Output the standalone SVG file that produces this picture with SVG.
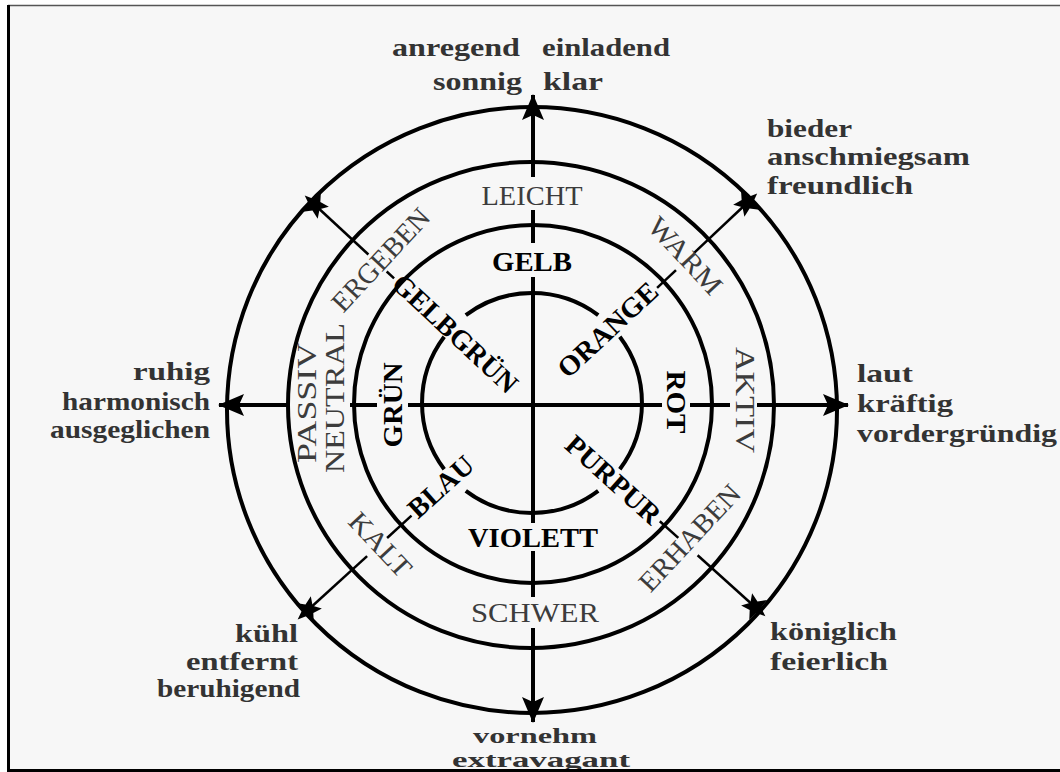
<svg xmlns="http://www.w3.org/2000/svg" width="1060" height="772" viewBox="0 0 1060 772">
<style>
.ring{fill:none;stroke:#000;stroke-width:4}
.axis{fill:none;stroke:#000;stroke-width:4}
.diag{fill:none;stroke:#000;stroke-width:2.5}
.col{font-family:"Liberation Serif",serif;font-weight:bold;font-size:28px;fill:#000}
.att{font-family:"Liberation Serif",serif;font-size:28px;fill:#3c3c3c}
.adj{font-family:"Liberation Serif",serif;font-weight:bold;font-size:25px;fill:#333}
.adj2{font-family:"Liberation Serif",serif;font-weight:bold;font-size:22px;fill:#333}
</style>
<defs>
<marker id="arr" viewBox="0 0 26 22" refX="25" refY="11" markerWidth="26" markerHeight="22" markerUnits="userSpaceOnUse" orient="auto">
<path d="M0,0 L26,11 L0,22 L5,11 Z" fill="#000"/>
</marker>
<marker id="star" viewBox="-15 -15 30 30" refX="0" refY="0" markerWidth="30" markerHeight="30" markerUnits="userSpaceOnUse" orient="auto">
<polygon points="14,0 5,3.6 4.3,13.3 -1.9,5.8 -11.3,8.2 -6.2,0 -11.3,-8.2 -1.9,-5.8 4.3,-13.3 5,-3.6" fill="#000"/>
</marker>
</defs>
<rect x="0" y="0" width="1060" height="772" fill="#fff"/>
<rect x="8" y="5" width="1052" height="765" fill="#f7f7f7"/>
<line x1="8" y1="5.5" x2="1060" y2="5.5" stroke="#555" stroke-width="1.5"/>
<line x1="8.5" y1="5" x2="8.5" y2="772" stroke="#000" stroke-width="3"/>

<g id="rings">
<ellipse class="ring" cx="532" cy="410" rx="305" ry="303"/>
<circle class="ring" cx="531" cy="405" r="243"/>
<circle class="ring" cx="533" cy="404" r="179"/>
<path class="ring" d="M598.2,490.8 A110,110 0 0 1 465.8,490.8 M444.2,469.2 A110,110 0 0 1 444.2,336.8 M465.8,315.2 A110,110 0 0 1 598.2,315.2 M619.8,336.8 A110,110 0 0 1 619.8,469.2"/>
</g>

<g id="connectors">
<line class="axis" x1="533" y1="177" x2="533" y2="95" marker-end="url(#arr)"/>
<line class="axis" x1="533" y1="210" x2="533" y2="243"/>
<line class="axis" x1="533" y1="277" x2="533" y2="523"/>
<line class="axis" x1="533" y1="551" x2="533" y2="597"/>
<line class="axis" x1="533" y1="628" x2="533" y2="722" marker-end="url(#arr)"/>
<line class="axis" x1="290" y1="405" x2="219" y2="405" marker-end="url(#arr)"/>
<line class="axis" x1="350" y1="405" x2="377" y2="405"/>
<line class="axis" x1="408" y1="405" x2="662" y2="405"/>
<line class="axis" x1="690" y1="405" x2="730" y2="405"/>
<line class="axis" x1="757" y1="405" x2="848" y2="405" marker-end="url(#arr)"/>
<line class="diag" x1="394.1" y1="278.3" x2="386.7" y2="271.5"/>
<line class="diag" x1="368.4" y1="254.5" x2="315" y2="205" marker-end="url(#star)"/>
<line class="diag" x1="657.1" y1="287.9" x2="676" y2="270.1"/>
<line class="diag" x1="694.1" y1="252.9" x2="747" y2="203" marker-end="url(#star)"/>
<line class="diag" x1="411.5" y1="515.7" x2="387.1" y2="538"/>
<line class="diag" x1="367.1" y1="556.1" x2="308" y2="610" marker-end="url(#star)"/>
<line class="diag" x1="659.8" y1="521.2" x2="678.3" y2="537.9"/>
<line class="diag" x1="697.6" y1="555.3" x2="755" y2="607" marker-end="url(#star)"/>
</g>

<g id="colour-labels">
<text class="col" x="532" y="271" text-anchor="middle" textLength="80" lengthAdjust="spacingAndGlyphs">GELB</text>
<text class="col" x="533" y="547" text-anchor="middle" textLength="130" lengthAdjust="spacingAndGlyphs">VIOLETT</text>
<text class="col" transform="translate(393,405) rotate(-90)" x="0" y="9" text-anchor="middle" textLength="85" lengthAdjust="spacingAndGlyphs">GRÜN</text>
<text class="col" transform="translate(676,402) rotate(90)" x="0" y="9" text-anchor="middle" textLength="63" lengthAdjust="spacingAndGlyphs">ROT</text>
<text class="col" transform="translate(455,334) rotate(43)" x="0" y="9" text-anchor="middle" textLength="160" lengthAdjust="spacingAndGlyphs">GELBGRÜN</text>
<text class="col" transform="translate(608,330) rotate(-43)" x="0" y="9" text-anchor="middle" textLength="126" lengthAdjust="spacingAndGlyphs">ORANGE</text>
<text class="col" transform="translate(441,487) rotate(-42)" x="0" y="9" text-anchor="middle" textLength="78" lengthAdjust="spacingAndGlyphs">BLAU</text>
<text class="col" transform="translate(613,480) rotate(42)" x="0" y="9" text-anchor="middle" textLength="118" lengthAdjust="spacingAndGlyphs">PURPUR</text>
</g>

<g id="attribute-labels">
<text class="att" x="532" y="205" text-anchor="middle" textLength="101" lengthAdjust="spacingAndGlyphs">LEICHT</text>
<text class="att" x="535" y="622" text-anchor="middle" textLength="128" lengthAdjust="spacingAndGlyphs">SCHWER</text>
<text class="att" transform="translate(307,403) rotate(-90)" x="0" y="9" text-anchor="middle" textLength="120" lengthAdjust="spacingAndGlyphs">PASSIV</text>
<text class="att" transform="translate(335,398) rotate(-90)" x="0" y="9" text-anchor="middle" textLength="150" lengthAdjust="spacingAndGlyphs">NEUTRAL</text>
<text class="att" transform="translate(745,400) rotate(90)" x="0" y="9" text-anchor="middle" textLength="106" lengthAdjust="spacingAndGlyphs">AKTIV</text>
<text class="att" transform="translate(381,260) rotate(-47)" x="0" y="9" text-anchor="middle" textLength="130" lengthAdjust="spacingAndGlyphs">ERGEBEN</text>
<text class="att" transform="translate(685,256) rotate(47)" x="0" y="9" text-anchor="middle" textLength="95" lengthAdjust="spacingAndGlyphs">WARM</text>
<text class="att" transform="translate(380,545) rotate(47)" x="0" y="9" text-anchor="middle" textLength="78" lengthAdjust="spacingAndGlyphs">KALT</text>
<text class="att" transform="translate(690,538) rotate(-47)" x="0" y="9" text-anchor="middle" textLength="135" lengthAdjust="spacingAndGlyphs">ERHABEN</text>
</g>

<g id="top-words">
<text class="adj" x="392" y="56" textLength="128" lengthAdjust="spacingAndGlyphs">anregend</text>
<text class="adj" x="542" y="56" textLength="128" lengthAdjust="spacingAndGlyphs">einladend</text>
<text class="adj" x="433" y="90" textLength="89" lengthAdjust="spacingAndGlyphs">sonnig</text>
<text class="adj" x="543" y="90" textLength="60" lengthAdjust="spacingAndGlyphs">klar</text>
</g>
<g id="topright-words">
<text class="adj" x="767" y="137" textLength="85" lengthAdjust="spacingAndGlyphs">bieder</text>
<text class="adj" x="767" y="165" textLength="203" lengthAdjust="spacingAndGlyphs">anschmiegsam</text>
<text class="adj" x="767" y="194" textLength="146" lengthAdjust="spacingAndGlyphs">freundlich</text>
</g>
<g id="right-words">
<text class="adj" x="857" y="382" textLength="56" lengthAdjust="spacingAndGlyphs">laut</text>
<text class="adj" x="857" y="412" textLength="96" lengthAdjust="spacingAndGlyphs">kräftig</text>
<text class="adj" x="857" y="442" textLength="200" lengthAdjust="spacingAndGlyphs">vordergründig</text>
</g>
<g id="left-words">
<text class="adj" x="210" y="380" text-anchor="end" textLength="77" lengthAdjust="spacingAndGlyphs">ruhig</text>
<text class="adj" x="210" y="410" text-anchor="end" textLength="148" lengthAdjust="spacingAndGlyphs">harmonisch</text>
<text class="adj" x="210" y="438" text-anchor="end" textLength="160" lengthAdjust="spacingAndGlyphs">ausgeglichen</text>
</g>
<g id="bottomleft-words">
<text class="adj" x="298" y="642" text-anchor="end" textLength="63" lengthAdjust="spacingAndGlyphs">kühl</text>
<text class="adj" x="298" y="670" text-anchor="end" textLength="112" lengthAdjust="spacingAndGlyphs">entfernt</text>
<text class="adj" x="300" y="697" text-anchor="end" textLength="143" lengthAdjust="spacingAndGlyphs">beruhigend</text>
</g>
<g id="bottomright-words">
<text class="adj" x="770" y="640" textLength="127" lengthAdjust="spacingAndGlyphs">königlich</text>
<text class="adj" x="770" y="670" textLength="118" lengthAdjust="spacingAndGlyphs">feierlich</text>
</g>
<g id="bottom-words">
<text class="adj2" x="473" y="743" textLength="124" lengthAdjust="spacingAndGlyphs">vornehm</text>
<text class="adj2" x="452" y="767" textLength="178" lengthAdjust="spacingAndGlyphs">extravagant</text>
</g>
<rect x="8" y="769" width="1052" height="3" fill="#000"/>
</svg>
